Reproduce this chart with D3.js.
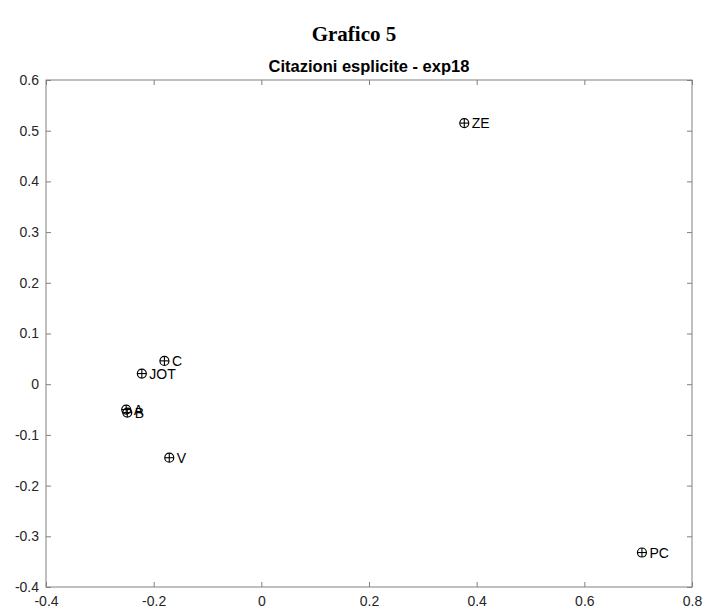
<!DOCTYPE html>
<html><head><meta charset="utf-8">
<script src="https://cdn.jsdelivr.net/npm/d3@7"></script>
<style>body{margin:0;background:#fff}svg{display:block}</style>
</head><body>
<script>
const labels = ["ZE","C","JOT","A","B","V","PC"];
const xs = [0.377, -0.180, -0.222, -0.251, -0.249, -0.171, 0.707];
const ys = [0.515, 0.046, 0.021, -0.050, -0.056, -0.145, -0.332];
const xTicks = [-0.4,-0.2,0,0.2,0.4,0.6,0.8];
const yTicks = [-0.4,-0.3,-0.2,-0.1,0,0.1,0.2,0.3,0.4,0.5,0.6];
const W=704,H=610;
const m={l:46,r:692,t:80,b:587};
const svg=d3.select("body").append("svg").attr("width",W).attr("height",H);
const x=d3.scaleLinear().domain([-0.4,0.8]).range([m.l,m.r]);
const y=d3.scaleLinear().domain([-0.4,0.6]).range([m.b,m.t]);
const fmt=d=>d===0?"0":String(d);
const font="'Liberation Sans', Arial, Helvetica, sans-serif";
svg.append("text").attr("x",354).attr("y",41).attr("text-anchor","middle")
 .attr("font-family","'Liberation Serif', 'Times New Roman', serif").attr("font-weight","bold").attr("font-size",21).text("Grafico 5");
svg.append("text").attr("x",(m.l+m.r)/2).attr("y",72).attr("text-anchor","middle")
 .attr("font-family",font).attr("font-weight","bold").attr("font-size",16.5).attr("fill","#000").text("Citazioni esplicite - exp18");
const axCol="#808080";
function styleAxis(g,showText){
  g.select(".domain").remove();
  g.selectAll(".tick line").attr("stroke",axCol);
  g.selectAll(".tick text").attr("font-family",font).attr("font-size",14).attr("fill","#262626");
  if(!showText) g.selectAll(".tick text").remove();
}
svg.append("g").attr("transform",`translate(0,${m.b})`)
 .call(d3.axisBottom(x).tickValues(xTicks).tickFormat(fmt).tickSizeInner(-5).tickSizeOuter(0).tickPadding(9))
 .call(g=>styleAxis(g,true));
svg.append("g").attr("transform",`translate(0,${m.t})`)
 .call(d3.axisTop(x).tickValues(xTicks).tickSizeInner(-5).tickSizeOuter(0))
 .call(g=>styleAxis(g,false));
svg.append("g").attr("transform",`translate(${m.l},0)`)
 .call(d3.axisLeft(y).tickValues(yTicks).tickFormat(fmt).tickSizeInner(-5).tickSizeOuter(0).tickPadding(7))
 .call(g=>styleAxis(g,true));
svg.append("g").attr("transform",`translate(${m.r},0)`)
 .call(d3.axisRight(y).tickValues(yTicks).tickSizeInner(-5).tickSizeOuter(0))
 .call(g=>styleAxis(g,false));
svg.append("rect").attr("x",m.l).attr("y",m.t).attr("width",m.r-m.l).attr("height",m.b-m.t)
 .attr("fill","none").attr("stroke",axCol).attr("stroke-width",1);
const pts=svg.append("g").selectAll("g").data(labels.map((l,i)=>({l,x:xs[i],y:ys[i]}))).join("g")
 .attr("transform",d=>`translate(${x(d.x)},${y(d.y)})`);
pts.append("circle").attr("r",4.5).attr("fill","none").attr("stroke","#000").attr("stroke-width",1.2);
pts.append("line").attr("x1",-4.5).attr("x2",4.5).attr("stroke","#000").attr("stroke-width",1.1);
pts.append("line").attr("y1",-4.5).attr("y2",4.5).attr("stroke","#000").attr("stroke-width",1.1);
pts.append("text").attr("x",7.5).attr("y",5).attr("font-family",font).attr("font-size",14).attr("fill","#000").text(d=>d.l);
</script>
</body></html>
